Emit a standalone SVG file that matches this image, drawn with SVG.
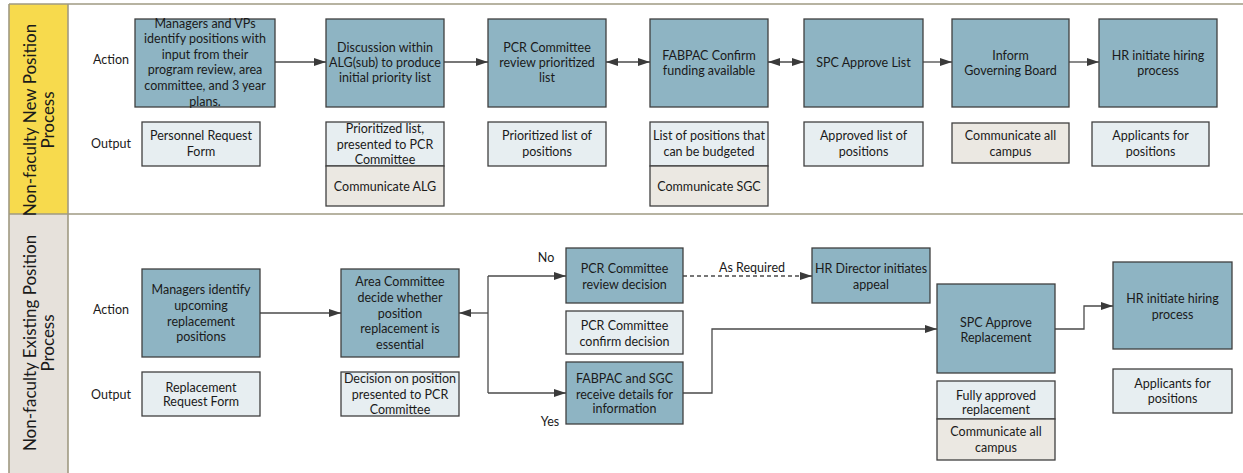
<svg xmlns="http://www.w3.org/2000/svg" width="1243" height="473" viewBox="0 0 1243 473">
<defs>
<style>
text{font-family:Lato,"Liberation Sans",sans-serif;font-size:12.5px;fill:#1a1a1a;text-anchor:middle}
.lane{font-size:17px}
.act{fill:#8eb4c3;stroke:#3f3f3f;stroke-width:1.3}
.out{fill:#e7eef1;stroke:#404040;stroke-width:1.3}
.gry{fill:#ebe8e2;stroke:#404040;stroke-width:1.3}
.ln{stroke:#a09a82;stroke-width:1.6;fill:none}
.c{stroke:#4a4a4a;stroke-width:1.3;fill:none}
</style>
<marker id="ah" viewBox="0 0 12 8" refX="12" refY="4" markerWidth="12" markerHeight="8" markerUnits="userSpaceOnUse" orient="auto-start-reverse">
<path d="M0,0 L12,4 L0,8 z" fill="#3a3a3a"/>
</marker>
</defs>
<rect width="1243" height="473" fill="#ffffff"/>
<g id="lanes">
<rect x="9" y="4" width="59" height="210" fill="#f7da4d"/>
<rect x="9" y="214" width="59" height="259" fill="#e6e1db"/>
<path class="ln" d="M9,4 H1243 M9,214 H1243 M9,4 V473 M68,4 V473"/>
<text class="lane" transform="translate(36,120) rotate(-90)">Non-faculty New Position</text>
<text class="lane" transform="translate(54,120) rotate(-90)">Process</text>
<text class="lane" transform="translate(36,343) rotate(-90)">Non-faculty Existing Position</text>
<text class="lane" transform="translate(54,343) rotate(-90)">Process</text>
<text x="111" y="63.5">Action</text>
<text x="111" y="147.5">Output</text>
<text x="111" y="313.5">Action</text>
<text x="111" y="398.5">Output</text>
</g>
<g id="connectors">
<path class="c" d="M275,62 H326" marker-end="url(#ah)"/>
<path class="c" d="M444,62 H488" marker-end="url(#ah)"/>
<path class="c" d="M606,62 H650" marker-start="url(#ah)" marker-end="url(#ah)"/>
<path class="c" d="M768,62 H804" marker-start="url(#ah)" marker-end="url(#ah)"/>
<path class="c" d="M923,62 H952" marker-end="url(#ah)"/>
<path class="c" d="M1069,62 H1099" marker-end="url(#ah)"/>
<path class="c" d="M260,313 H341" marker-end="url(#ah)"/>
<path class="c" d="M488,313 H459" marker-end="url(#ah)"/>
<path class="c" d="M488,276 V393"/>
<path class="c" d="M488,276 H566" marker-end="url(#ah)"/>
<path class="c" d="M488,393 H566" marker-end="url(#ah)"/>
<path class="c" d="M683,276 H812" stroke-dasharray="4,3" marker-end="url(#ah)"/>
<path class="c" d="M683,393 H712 V329 H937" marker-end="url(#ah)"/>
<path class="c" d="M1055,329 H1084 V306 H1113" marker-end="url(#ah)"/>
<text x="546" y="261.5">No</text>
<text x="550" y="425.5">Yes</text>
<text x="752" y="271.5">As Required</text>
</g>
<g id="n1"><rect class="act" x="135" y="19" width="140" height="88"/>
<text x="205" y="27.5">Managers and VPs</text><text x="205" y="43">identify positions with</text><text x="205" y="58.5">input from their</text><text x="205" y="74">program review, area</text><text x="205" y="90">committee, and 3 year</text><text x="205" y="106">plans.</text></g>
<g id="o1"><rect class="out" x="142" y="122" width="118" height="44"/>
<text x="201" y="139.5">Personnel Request</text><text x="201" y="155.5">Form</text></g>
<g id="n2"><rect class="act" x="326" y="19" width="118" height="88"/>
<text x="385" y="51.5">Discussion within</text><text x="385" y="66.5">ALG(sub) to produce</text><text x="385" y="81.5">initial priority list</text></g>
<g id="o2"><rect class="out" x="326" y="122" width="118" height="44"/>
<text x="385" y="132.5">Prioritized list,</text><text x="385" y="148.5">presented to PCR</text><text x="385" y="163.5">Committee</text></g>
<g id="o2b"><rect class="gry" x="326" y="166" width="118" height="40"/>
<text x="385" y="190.5">Communicate ALG</text></g>
<g id="n3"><rect class="act" x="488" y="19" width="118" height="88"/>
<text x="547" y="51.5">PCR Committee</text><text x="547" y="66.5">review prioritized</text><text x="547" y="81.5">list</text></g>
<g id="o3"><rect class="out" x="488" y="122" width="118" height="44"/>
<text x="547" y="139.5">Prioritized list of</text><text x="547" y="155.5">positions</text></g>
<g id="n4"><rect class="act" x="650" y="19" width="118" height="88"/>
<text x="709" y="59.5">FABPAC Confirm</text><text x="709" y="74.5">funding available</text></g>
<g id="o4"><rect class="out" x="650" y="122" width="118" height="44"/>
<text x="709" y="139.5">List of positions that</text><text x="709" y="155.5">can be budgeted</text></g>
<g id="o4b"><rect class="gry" x="650" y="166" width="118" height="40"/>
<text x="709" y="190.5">Communicate SGC</text></g>
<g id="n5"><rect class="act" x="804" y="19" width="119" height="88"/>
<text x="863.5" y="66.5">SPC Approve List</text></g>
<g id="o5"><rect class="out" x="804" y="122" width="119" height="44"/>
<text x="863.5" y="139.5">Approved list of</text><text x="863.5" y="155.5">positions</text></g>
<g id="n6"><rect class="act" x="952" y="19" width="117" height="88"/>
<text x="1010.5" y="59.5">Inform</text><text x="1010.5" y="74.5">Governing Board</text></g>
<g id="o6"><rect class="gry" x="952" y="123" width="117" height="40"/>
<text x="1010.5" y="139.5">Communicate all</text><text x="1010.5" y="155.5">campus</text></g>
<g id="n7"><rect class="act" x="1099" y="19" width="118" height="88"/>
<text x="1158" y="59.5">HR initiate hiring</text><text x="1158" y="74.5">process</text></g>
<g id="o7"><rect class="out" x="1092" y="122" width="117" height="44"/>
<text x="1150.5" y="139.5">Applicants for</text><text x="1150.5" y="155.5">positions</text></g>
<g id="b1"><rect class="act" x="142" y="269" width="118" height="88"/>
<text x="201" y="293.5">Managers identify</text><text x="201" y="309.5">upcoming</text><text x="201" y="325.5">replacement</text><text x="201" y="340.5">positions</text></g>
<g id="ob1"><rect class="out" x="142" y="372" width="118" height="44"/>
<text x="201" y="391.5">Replacement</text><text x="201" y="405.5">Request Form</text></g>
<g id="b2"><rect class="act" x="341" y="269" width="118" height="88"/>
<text x="400" y="285.5">Area Committee</text><text x="400" y="301.5">decide whether</text><text x="400" y="317.5">position</text><text x="400" y="332.5">replacement is</text><text x="400" y="348.5">essential</text></g>
<g id="ob2"><rect class="out" x="341" y="372" width="118" height="44"/>
<text x="400" y="382.5">Decision on position</text><text x="400" y="398.5">presented to PCR</text><text x="400" y="413.5">Committee</text></g>
<g id="b3"><rect class="act" x="566" y="248" width="117" height="55"/>
<text x="624.5" y="272.5">PCR Committee</text><text x="624.5" y="288.5">review decision</text></g>
<g id="b3o"><rect class="out" x="566" y="311" width="117" height="43"/>
<text x="624.5" y="329.5">PCR Committee</text><text x="624.5" y="345.5">confirm decision</text></g>
<g id="b4"><rect class="act" x="566" y="362" width="117" height="62"/>
<text x="624.5" y="382.5">FABPAC and SGC</text><text x="624.5" y="398.5">receive details for</text><text x="624.5" y="412.5">information</text></g>
<g id="b5"><rect class="act" x="812" y="248" width="118" height="55"/>
<text x="871" y="272.5">HR Director initiates</text><text x="871" y="288.5">appeal</text></g>
<g id="b6"><rect class="act" x="937" y="284" width="118" height="89"/>
<text x="996" y="326.5">SPC Approve</text><text x="996" y="341.5">Replacement</text></g>
<g id="ob6"><rect class="out" x="937" y="381" width="118" height="38"/>
<text x="996" y="399.5">Fully approved</text><text x="996" y="413.5">replacement</text></g>
<g id="ob6b"><rect class="gry" x="937" y="419" width="118" height="41"/>
<text x="996" y="435.5">Communicate all</text><text x="996" y="451.5">campus</text></g>
<g id="b7"><rect class="act" x="1113" y="262" width="119" height="87"/>
<text x="1172.5" y="302.5">HR initiate hiring</text><text x="1172.5" y="318.5">process</text></g>
<g id="ob7"><rect class="out" x="1113" y="369" width="119" height="44"/>
<text x="1172.5" y="387.5">Applicants for</text><text x="1172.5" y="402.5">positions</text></g>
</svg>
